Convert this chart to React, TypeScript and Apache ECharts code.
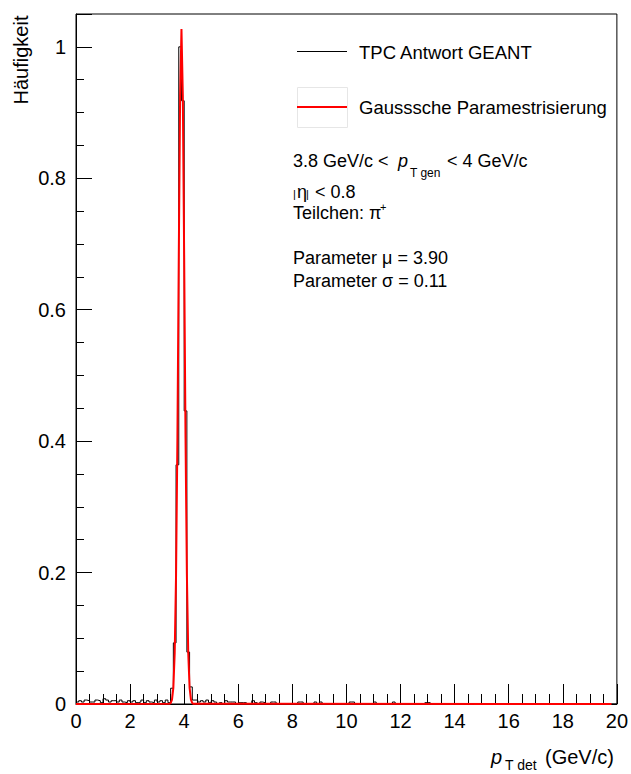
import React, { useEffect, useRef } from 'react';
import * as echarts from 'echarts';

// Histogram: 200 bins of width 0.1 GeV/c from 0 to 20 (values normalised to peak)
const binWidth = 0.1;
const histValues = [
  0.003, 0.005, 0.003, 0.006, 0.005, 0.003, 0.003, 0.006, 0.005, 0.002,
  0.008, 0.006, 0.003, 0.005, 0.005, 0.003, 0.006, 0.003, 0.002, 0.005,
  0.003, 0.005, 0.002, 0.003, 0.006, 0.002, 0.005, 0.003, 0.002, 0.006,
  0.003, 0.005, 0.002, 0.006, 0.002, 0.024, 0.093, 0.364, 1.0, 0.918,
  0.446, 0.079, 0.026, 0.006, 0.006, 0.003, 0.005, 0.003, 0.006, 0.002,
  0.005, 0.003, 0, 0.002, 0, 0.005, 0.003, 0.003, 0.003, 0,
  0.002, 0.002, 0.002, 0, 0, 0.005, 0.002, 0, 0.003, 0.002,
  0, 0, 0.003, 0.003, 0, 0, 0, 0, 0, 0,
  0, 0, 0.003, 0.003, 0, 0, 0, 0, 0.003, 0,
  0.003, 0, 0, 0, 0, 0, 0, 0, 0, 0,
  0, 0.003, 0.003, 0, 0, 0, 0, 0, 0, 0,
  0.003, 0, 0, 0, 0, 0, 0, 0.003, 0, 0,
  0, 0, 0, 0, 0, 0, 0, 0, 0, 0.002,
  0.002, 0, 0, 0, 0, 0, 0, 0, 0, 0,
  0, 0, 0, 0, 0, 0, 0, 0, 0, 0,
  0, 0, 0, 0, 0, 0, 0, 0, 0, 0,
  0, 0, 0, 0, 0, 0, 0, 0, 0, 0,
  0, 0, 0, 0, 0, 0, 0, 0, 0, 0,
  0, 0, 0, 0, 0, 0, 0, 0, 0, 0,
  0, 0, 0, 0, 0, 0, 0, 0, 0, 0,
];

// Gaussian parametrisation curve
const fitX = [0, 3.45, 3.5, 3.55, 3.6, 3.65, 3.7, 3.75, 3.8, 3.85, 3.9, 3.95, 4.0, 4.05, 4.1, 4.15, 4.2, 4.25, 4.3, 4.35, 19.8];
const fitY = [0, 0.0003, 0.0014, 0.0065, 0.025, 0.078, 0.197, 0.405, 0.679, 0.926, 1.027, 0.926, 0.679, 0.405, 0.197, 0.078, 0.025, 0.0065, 0.0014, 0.0003, 0];

const seriesNames = ['TPC Antwort GEANT', 'Gausssche Paramestrisierung'];
const xMin = 0, xMax = 20, xInterval = 2;
const yMin = 0, yMax = 1.05, yInterval = 0.2;

const FONT = '"Liberation Sans", Arial, Helvetica, sans-serif';

export default function App() {
  const ref = useRef<HTMLDivElement>(null);
  useEffect(() => {
    if (!ref.current) return;
    const chart = echarts.init(ref.current, undefined, { renderer: 'svg' });
    const histData: number[][] = histValues.map((v, i) => [+(i * binWidth).toFixed(2), v]);
    histData.push([xMax, histValues[histValues.length - 1]]);
    const fitData = fitX.map((x, i) => [x, fitY[i]]);

    const txt = (text: string, x: number, y: number, size: number, extra: any = {}) => ({
      type: 'text', x, y, z: 100,
      style: { text, fontSize: size, fontFamily: FONT, fill: '#000', align: 'left', verticalAlign: 'middle', ...extra },
    });

    const option: any = {
      animation: false,
      backgroundColor: '#fff',
      grid: {
        left: 76, right: 12, top: 14, bottom: 70,
        show: true, borderColor: '#000', borderWidth: 1, backgroundColor: 'transparent',
      },
      xAxis: {
        type: 'value', min: xMin, max: xMax, interval: xInterval,
        axisLine: { show: true, onZero: false, lineStyle: { color: '#000', width: 1 } },
        axisTick: { show: true, inside: true, length: 20, lineStyle: { color: '#000', width: 1 } },
        minorTick: { show: true, splitNumber: 4, length: 10, lineStyle: { color: '#000', width: 1 } },
        splitLine: { show: false },
        axisLabel: { color: '#000', fontSize: 20, fontFamily: FONT, margin: 7 },
      },
      yAxis: {
        type: 'value', min: yMin, max: yMax, interval: yInterval,
        axisLine: { show: true, onZero: false, lineStyle: { color: '#000', width: 1 } },
        axisTick: { show: true, inside: true, length: 16, lineStyle: { color: '#000', width: 1 } },
        minorTick: { show: true, splitNumber: 4, length: 8, lineStyle: { color: '#000', width: 1 } },
        splitLine: { show: false },
        axisLabel: { color: '#000', fontSize: 20, fontFamily: FONT, margin: 10, showMaxLabel: false },
      },
      series: [
        {
          type: 'line', name: seriesNames[0], data: histData, step: 'end', symbol: 'none',
          lineStyle: { color: '#000', width: 1 }, itemStyle: { color: '#000' }, z: 2,
        },
        {
          type: 'line', name: seriesNames[1], data: fitData, symbol: 'none', clip: false,
          lineStyle: { color: '#ff0000', width: 2 }, itemStyle: { color: '#ff0000' }, z: 3,
        },
      ],
      graphic: [
        // legend
        { type: 'rect', z: 99, shape: { x: 297.5, y: 87.5, width: 50, height: 40 }, style: { fill: 'none', stroke: '#e6e6e6', lineWidth: 1 } },
        { type: 'line', z: 100, shape: { x1: 297, y1: 51.5, x2: 347, y2: 51.5 }, style: { stroke: '#000', lineWidth: 1 } },
        { type: 'line', z: 100, shape: { x1: 297, y1: 107, x2: 347, y2: 107 }, style: { stroke: '#ff0000', lineWidth: 2 } },
        txt(seriesNames[0], 359, 52, 18.5),
        txt(seriesNames[1], 359, 107, 18.5),
        // annotations
        txt('3.8 GeV/c < ', 293, 161, 18),
        txt('p', 398, 161, 18, { fontStyle: 'italic' }),
        txt('T gen', 410, 173, 12),
        txt('< 4 GeV/c', 447, 161, 18),
        txt('|', 293, 194, 11),
        txt('η', 297, 192, 18),
        txt('|', 306, 194, 11),
        txt('< 0.8', 315, 192, 18),
        txt('Teilchen: π', 293, 213, 18),
        txt('+', 380, 207, 11),
        txt('Parameter μ = 3.90', 293, 258, 18),
        txt('Parameter σ = 0.11', 293, 281, 18),
        // axis titles
        { type: 'text', x: 21, y: 60, rotation: Math.PI / 2, z: 100,
          style: { text: 'Häufigkeit', fontSize: 20, fontFamily: FONT, fill: '#000', align: 'center', verticalAlign: 'middle' } },
        txt('p', 491, 757, 20, { fontStyle: 'italic' }),
        txt('T det', 505, 765, 14),
        txt('(GeV/c)', 545, 757, 20),
      ],
    };
    chart.setOption(option);
    return () => chart.dispose();
  }, []);
  return <div ref={ref} style={{ position: 'fixed', left: 0, top: 0, width: 631, height: 774, background: '#fff' }} />;
}
